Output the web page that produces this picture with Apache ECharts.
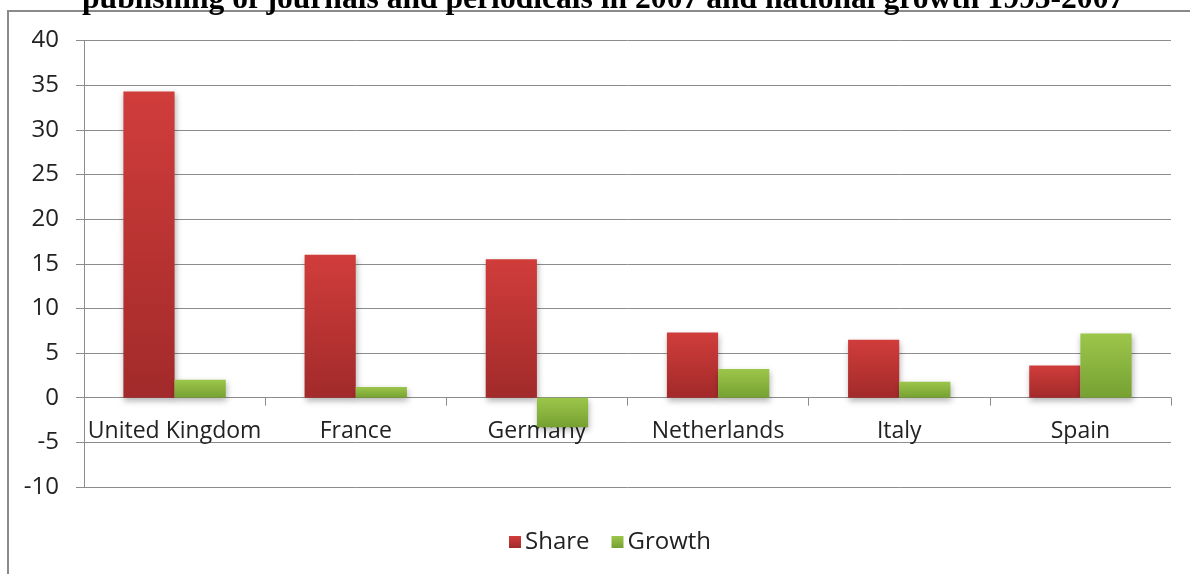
<!DOCTYPE html>
<html>
<head>
<meta charset="utf-8">
<script src="https://cdn.jsdelivr.net/npm/echarts@6/dist/echarts.min.js"></script>
<style>
  html, body { margin: 0; padding: 0; background: #fff; }
  #chart { width: 1190px; height: 574px; }
</style>
</head>
<body>
<div id="chart"></div>
<script>
// Countries on the category axis
const countries = ['United Kingdom', 'France', 'Germany', 'Netherlands', 'Italy', 'Spain'];
// Share of EU publishing of journals and periodicals, 2007 (%)
const shareValues = [34.3, 16.0, 15.5, 7.3, 6.5, 3.6];
// National growth 1995-2007 (%)
const growthValues = [2.0, 1.2, -3.3, 3.2, 1.8, 7.2];
// Value axis range and step
const yMin = -10, yMax = 40, yStep = 5;

const titleText = 'publishing of journals and periodicals in 2007 and national growth 1995-2007';
const labelFont = 'Open Sans';

// plot area edges (px)
const gridTop = 40.5, gridBottom = 87, gridH = 574 - gridTop - gridBottom;
// pixel distance from the bottom of the plot up to the zero line
const zeroLift = gridH * (0 - yMin) / (yMax - yMin);

const chart = echarts.init(document.getElementById('chart'), null, { renderer: 'canvas' });

const barShadow = {
  shadowBlur: 6,
  shadowOffsetX: 1,
  shadowOffsetY: 3,
  shadowColor: 'rgba(0,0,0,0.3)'
};

chart.setOption({
  animation: false,
  backgroundColor: '#ffffff',
  graphic: [
    {
      type: 'rect',
      shape: { x: 8, y: 11, width: 1400, height: 800 },
      style: { fill: 'none', stroke: '#8a8a8a', lineWidth: 2 },
      z: -1
    },
    {
      type: 'text',
      left: 82,
      top: -16,
      style: {
        text: titleText,
        font: 'bold 31.6px "Liberation Serif", serif',
        fill: '#000'
      }
    }
  ],
  legend: {
    data: ['Share', 'Growth'],
    left: 504,
    top: 525,
    itemWidth: 12,
    itemHeight: 12,
    itemGap: 22,
    icon: 'rect',
    textStyle: { fontFamily: labelFont, fontSize: 24, color: '#222', padding: [0, 0, 0, -1] }
  },
  grid: { left: 84, right: 19, top: gridTop, bottom: gridBottom, containLabel: false },
  xAxis: {
    type: 'category',
    data: countries,
    position: 'bottom',
    offset: -zeroLift,
    axisLine: { onZero: false, lineStyle: { color: '#8c8c8c', width: 1 } },
    axisTick: { show: true, length: 8, lineStyle: { color: '#8c8c8c' } },
    axisLabel: { interval: 0, margin: 22, fontFamily: labelFont, fontSize: 23, color: '#222' },
    splitLine: { show: false }
  },
  yAxis: {
    type: 'value',
    min: yMin,
    max: yMax,
    interval: yStep,
    axisLine: { show: true, lineStyle: { color: '#8c8c8c' } },
    axisTick: { show: true, length: 8, lineStyle: { color: '#8c8c8c' } },
    axisLabel: { margin: 25, fontFamily: labelFont, fontSize: 24, color: '#222' },
    splitLine: { show: true, lineStyle: { color: '#8c8c8c', width: 1 } }
  },
  series: [
    {
      name: 'Share',
      type: 'bar',
      data: shareValues,
      barGap: '0%',
      barCategoryGap: '43.5%',
      itemStyle: Object.assign({
        color: new echarts.graphic.LinearGradient(0, 0, 0, 1, [
          { offset: 0, color: '#d03d3b' },
          { offset: 1, color: '#a22a2a' }
        ])
      }, barShadow)
    },
    {
      name: 'Growth',
      type: 'bar',
      data: growthValues,
      itemStyle: Object.assign({
        color: new echarts.graphic.LinearGradient(0, 0, 0, 1, [
          { offset: 0, color: '#9cc64a' },
          { offset: 1, color: '#76a132' }
        ])
      }, barShadow)
    }
  ]
});
</script>
</body>
</html>
